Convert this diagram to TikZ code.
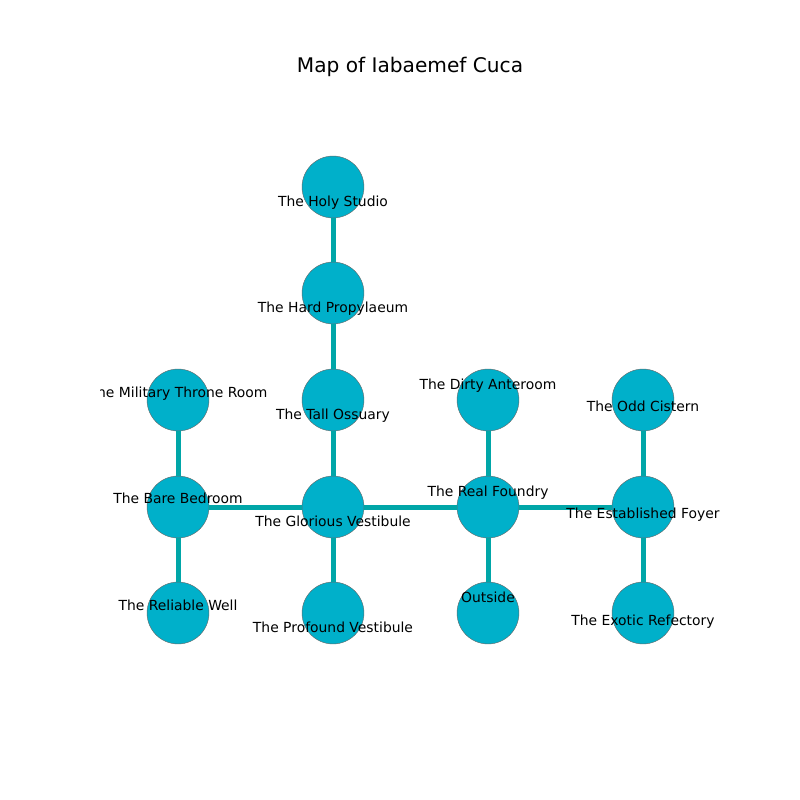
\documentclass[tikz,border=0pt]{standalone}
\usepackage{fontspec}
\setmainfont{DejaVu Sans}
\usepackage{tikz}
\usetikzlibrary{calc}
\definecolor{stanza}{HTML}{00B0CA}
\definecolor{corridoio}{HTML}{00A6A8}
\tikzset{
    stanza/.style = {circle, fill = stanza, draw = black!60, line width = 0.3pt, minimum size = 44.6pt, inner sep = 0pt},
    corridoio/.style = {draw = corridoio, line width = 3.6pt},
    etichetta/.style = {font = \fontsize{10}{12}\selectfont, inner sep = 0pt, text = black}
}
\begin{document}
\begin{tikzpicture}[x = 0.72pt, y = -0.72pt]
    % Parametri
    \pgfmathsetmacro{\ca}{178}
    \pgfmathsetmacro{\cb}{333}
    \pgfmathsetmacro{\cc}{488}
    \pgfmathsetmacro{\cd}{643}
    \useasboundingbox (0,0) rectangle (800,800);
    % Titolo
    \node[font = \fontsize{14.5}{17}\selectfont, inner sep = 0pt] (titolo) at (410,67) {Map of Iabaemef Cuca};
    % Stanze
    \node[stanza] (holy) at (\cb,187) {};
    \node[stanza] (hard) at (\cb,293) {};
    \node[stanza] (tall) at (\cb,400) {};
    \node[stanza] (glorious) at (\cb,507) {};
    \node[stanza] (profound) at (\cb,613) {};
    \node[stanza] (military) at (\ca,400) {};
    \node[stanza] (bare) at (\ca,507) {};
    \node[stanza] (reliable) at (\ca,613) {};
    \node[stanza] (dirty) at (\cc,400) {};
    \node[stanza] (foundry) at (\cc,507) {};
    \node[stanza] (outside) at (\cc,613) {};
    \node[stanza] (odd) at (\cd,400) {};
    \node[stanza] (foyer) at (\cd,507) {};
    \node[stanza] (exotic) at (\cd,613) {};
    % Corridoi
    \foreach \a/\b in {holy/hard, hard/tall, tall/glorious, glorious/profound, military/bare, bare/reliable, bare/glorious, glorious/foundry, foundry/dirty, foundry/outside, foundry/foyer, foyer/odd, foyer/exotic}
        \draw[corridoio] (\a) -- (\b);
    % Etichette
    \begin{scope}
        \clip (100,88) rectangle (720,712);
        \node[etichetta] (tholy) at ($(holy)+(0,16)$) {The Holy Studio};
        \node[etichetta] (thard) at ($(hard)+(0,16)$) {The Hard Propylaeum};
        \node[etichetta] (ttall) at ($(tall)+(0,16)$) {The Tall Ossuary};
        \node[etichetta] (tglorious) at ($(glorious)+(0,14)$) {The Glorious Vestibule};
        \node[etichetta] (tprofound) at ($(profound)+(0,14)$) {The Profound Vestibule};
        \node[etichetta] (tmilitary) at ($(military)+(0,-6)$) {The Military Throne Room};
        \node[etichetta] (tbare) at ($(bare)+(0,-9)$) {The Bare Bedroom};
        \node[etichetta] (treliable) at ($(reliable)+(0,-8)$) {The Reliable Well};
        \node[etichetta] (tdirty) at ($(dirty)+(0,-14)$) {The Dirty Anteroom};
        \node[etichetta] (tfoundry) at ($(foundry)+(0,-14)$) {The Real Foundry};
        \node[etichetta] (toutside) at ($(outside)+(0,-16)$) {Outside};
        \node[etichetta] (todd) at ($(odd)+(0,6)$) {The Odd Cistern};
        \node[etichetta] (tfoyer) at ($(foyer)+(0,8)$) {The Established Foyer};
        \node[etichetta] (texotic) at ($(exotic)+(0,9)$) {The Exotic Refectory};
    \end{scope}
\end{tikzpicture}
\end{document}
